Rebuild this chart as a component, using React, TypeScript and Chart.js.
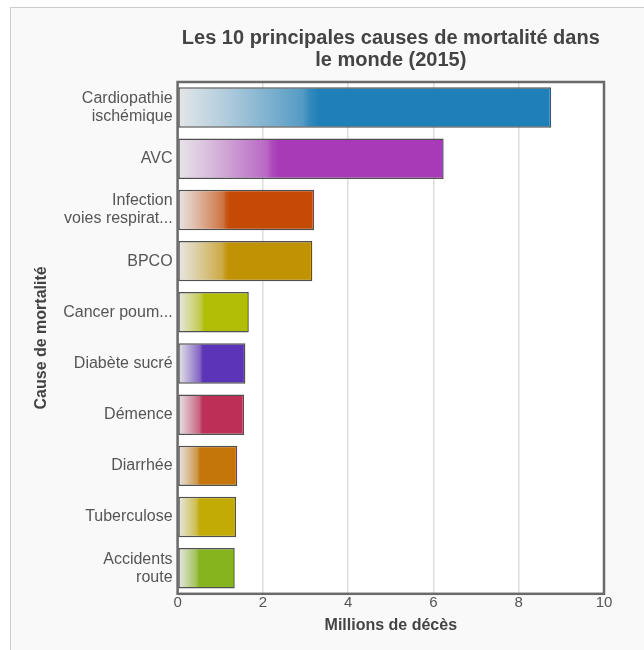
import React, { useEffect, useRef } from "react";
import { Chart, registerables } from "chart.js";

Chart.register(...registerables);

const causes: (string | string[])[] = [
  ["Cardiopathie", "ischémique"],
  "AVC",
  ["Infection", "voies respirat..."],
  "BPCO",
  "Cancer poum...",
  "Diabète sucré",
  "Démence",
  "Diarrhée",
  "Tuberculose",
  ["Accidents", "route"],
];
const deaths = [8.76, 6.24, 3.2, 3.16, 1.67, 1.59, 1.56, 1.4, 1.37, 1.34];
const barColors = [
  "#1f7fb8",
  "#a83ab8",
  "#c54a05",
  "#c29205",
  "#b2be05",
  "#5c34b8",
  "#be2f58",
  "#c4760a",
  "#c2ab05",
  "#86b41e",
];
const xTicks = [0, 2, 4, 6, 8, 10];
const titleLines = ["Les 10 principales causes de mortalité dans", "le monde (2015)"];
const xTitle = "Millions de décès";
const yTitle = "Cause de mortalité";

const FONT = "'Liberation Sans', Arial, Helvetica, sans-serif";

function hexToRgb(h: string): number[] {
  const v = h.replace("#", "");
  return [0, 2, 4].map((i) => parseInt(v.slice(i, i + 2), 16));
}

function gradientFill(ctx: any) {
  const chart = ctx.chart;
  const area = chart.chartArea;
  const i = ctx.dataIndex;
  const base = barColors[i ?? 0];
  if (!area || i === undefined) return base;
  const xs = chart.scales.x;
  const x0 = xs.getPixelForValue(0);
  const x1 = xs.getPixelForValue(deaths[i] * 0.38);
  const g = chart.ctx.createLinearGradient(x0, 0, x1, 0);
  const [r, gg, b] = hexToRgb(base);
  const grey = 234;
  const mix = (t: number) =>
    `rgb(${Math.round(grey + (r - grey) * t)},${Math.round(grey + (gg - grey) * t)},${Math.round(
      grey + (b - grey) * t
    )})`;
  g.addColorStop(0, mix(0.03));
  g.addColorStop(0.3, mix(0.25));
  g.addColorStop(0.6, mix(0.5));
  g.addColorStop(0.88, mix(0.74));
  g.addColorStop(0.93, mix(0.9));
  g.addColorStop(1, mix(1));
  return g;
}

const plotFrame = {
  id: "plotFrame",
  beforeDraw(chart: any) {
    const { ctx, chartArea: a } = chart;
    ctx.save();
    ctx.fillStyle = "#ffffff";
    ctx.fillRect(a.left, a.top, a.width, a.height);
    ctx.restore();
  },
  afterDatasetsDraw(chart: any) {
    const { ctx, chartArea: a } = chart;
    ctx.save();
    ctx.strokeStyle = "#6a6a6a";
    ctx.lineWidth = 2.5;
    ctx.strokeRect(a.left, a.top, a.width, a.height);
    ctx.restore();
  },
};

export default function App() {
  const ref = useRef<HTMLCanvasElement | null>(null);

  useEffect(() => {
    document.body.style.overflow = "hidden";
    if (!ref.current) return;
    const chart = new Chart(ref.current, {
      type: "bar",
      data: {
        labels: causes as any,
        datasets: [
          {
            data: deaths,
            backgroundColor: gradientFill as any,
            borderColor: "#505050",
            borderWidth: 1.5,
            borderSkipped: false,
            barPercentage: 0.79,
            categoryPercentage: 1.0,
          },
        ],
      },
      options: {
        indexAxis: "y",
        animation: false,
        responsive: true,
        maintainAspectRatio: false,
        layout: { padding: { top: 27, right: 40, bottom: 15, left: 32 } },
        plugins: {
          legend: { display: false },
          tooltip: { enabled: false },
          title: {
            display: true,
            text: titleLines,
            fullSize: false,
            color: "#444",
            font: { family: FONT, size: 20, weight: "bold", lineHeight: 1.1 },
            padding: { top: 0, bottom: 11 },
          },
        },
        scales: {
          x: {
            min: 0,
            max: 10,
            afterBuildTicks: (s: any) => {
              s.ticks = xTicks.map((v) => ({ value: v }));
            },
            ticks: { color: "#555", font: { family: FONT, size: 15 }, padding: 0 },
            grid: { color: "#dddddd", lineWidth: 1.5, drawTicks: false },
            border: { display: false },
            title: {
              display: true,
              text: xTitle,
              color: "#444",
              font: { family: FONT, size: 16, weight: "bold" },
              padding: { top: 4, bottom: 0 },
            },
          },
          y: {
            ticks: {
              color: "#555",
              font: { family: FONT, size: 16, lineHeight: 1.13 },
              padding: 5,
            },
            grid: { display: false, drawTicks: false },
            border: { display: false },
            title: {
              display: true,
              text: yTitle,
              color: "#444",
              font: { family: FONT, size: 16, weight: "bold" },
              padding: { top: 0, bottom: 7 },
            },
          },
        },
      },
      plugins: [plotFrame],
    });
    return () => chart.destroy();
  }, []);

  return (
    <div style={{ position: "fixed", left: 0, top: 0, width: 644, height: 650, overflow: "hidden", background: "#fff" }}>
      <div
        style={{
          position: "absolute",
          left: 10,
          top: 7,
          width: 700,
          height: 700,
          border: "1px solid #cccccc",
          background: "#f9f9f9",
        }}
      />
      <div style={{ position: "absolute", left: 0, top: 0, width: 644, height: 650 }}>
        <canvas ref={ref} />
      </div>
    </div>
  );
}
